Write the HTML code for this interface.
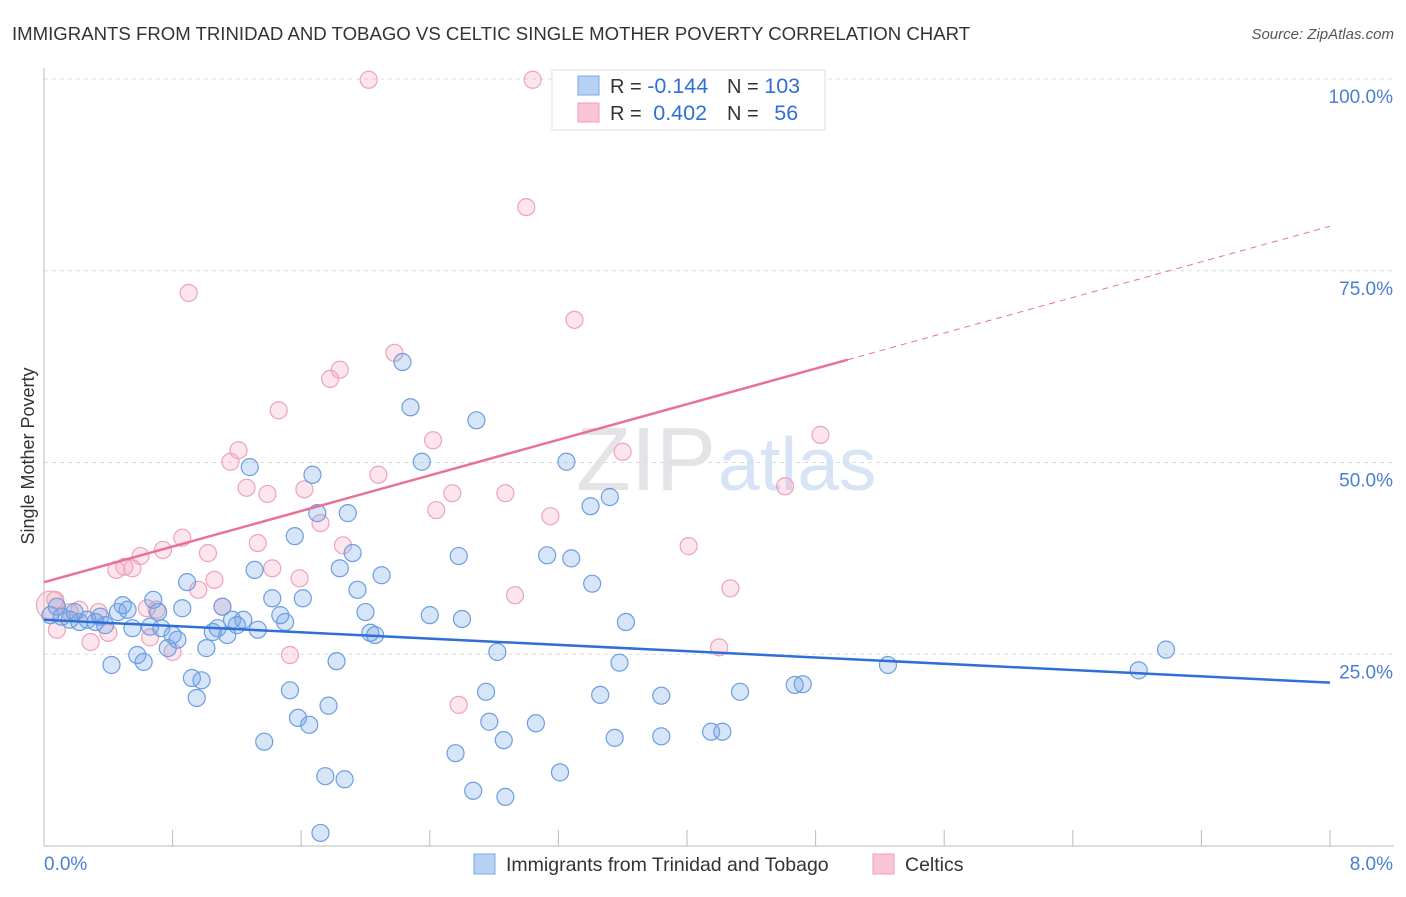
<!DOCTYPE html>
<html><head><meta charset="utf-8"><style>
body{margin:0;background:#fff;font-family:"Liberation Sans",sans-serif;}
svg text{font-family:"Liberation Sans",sans-serif;}
</style></head><body>
<svg id="chart" width="1406" height="892">
<text x="12" y="40" font-size="18.6" fill="#333">IMMIGRANTS FROM TRINIDAD AND TOBAGO VS CELTIC SINGLE MOTHER POVERTY CORRELATION CHART</text>
<text x="1394" y="39" font-size="15" fill="#555" font-style="italic" text-anchor="end">Source: ZipAtlas.com</text>
<text x="716" y="490" font-size="90" fill="#e3e3e8" text-anchor="end" font-family="Liberation Serif">ZIP</text>
<text x="718" y="490" font-size="75" fill="#d6e4f5">atlas</text>
<text transform="translate(34,456) rotate(-90)" font-size="18" fill="#333" text-anchor="middle">Single Mother Poverty</text>
<g id="grid"></g><g id="ticks"></g><g id="pts"></g><g id="lines"></g>
<g>
<rect x="552" y="70" width="273" height="60" fill="#fff" stroke="#ddd"/>
<rect x="578" y="76" width="21" height="19" fill="#b7d1f5" stroke="#7aa6e3"/>
<rect x="578" y="103" width="21" height="19" fill="#f9c4d3" stroke="#ee9fb8"/>
<text x="610" y="93" font-size="20" fill="#333">R = <tspan fill="#2f6fd6" font-size="21.5">-0.144</tspan></text>
<text x="727" y="93" font-size="20" fill="#333">N = <tspan fill="#2f6fd6" font-size="21.5">103</tspan></text>
<text x="610" y="120" font-size="20" fill="#333">R = <tspan fill="#2f6fd6" dx="6" font-size="21.5">0.402</tspan></text>
<text x="727" y="120" font-size="20" fill="#333">N = <tspan fill="#2f6fd6" dx="10" font-size="21.5">56</tspan></text>
</g>
<g>
<rect x="474" y="854" width="21" height="20" fill="#b7d1f5" stroke="#7aa6e3"/>
<text x="506" y="871" font-size="19.5" fill="#333">Immigrants from Trinidad and Tobago</text>
<rect x="873" y="854" width="21" height="20" fill="#f9c4d3" stroke="#ee9fb8"/>
<text x="905" y="871" font-size="19.5" fill="#333">Celtics</text>
</g>
</svg>
<script>
const blueX=[0.08,0.04,0.11,0.16,0.19,0.22,0.27,0.32,0.35,0.38,0.42,0.46,0.49,0.52,0.55,0.58,0.62,0.66,0.68,0.71,0.73,0.77,0.80,0.83,0.86,0.89,0.92,0.95,0.98,1.01,1.05,1.08,1.11,1.14,1.17,1.20,1.24,1.28,1.31,1.33,1.37,1.42,1.47,1.50,1.53,1.56,1.58,1.61,1.65,1.67,1.70,1.75,1.77,1.82,1.84,1.87,1.89,1.92,1.95,2.00,2.03,2.06,2.10,2.23,2.28,2.35,2.40,2.56,2.58,2.60,2.67,2.69,2.75,2.77,2.82,2.86,2.87,3.06,3.13,3.21,3.25,3.28,3.40,3.41,3.46,3.52,3.55,3.58,3.62,3.84,3.84,4.15,4.22,4.33,4.67,4.72,5.25,6.81,6.98,1.72];
const blueY=[31.2,30.1,29.9,29.5,30.5,29.2,29.5,29.2,29.9,28.8,23.6,30.5,31.4,30.8,28.4,24.9,24.0,28.6,32.1,30.5,28.4,25.8,27.5,26.9,31.0,34.4,21.9,19.3,21.6,25.8,27.9,28.4,31.2,27.5,29.5,28.8,29.5,49.4,36.0,28.2,13.6,32.3,30.1,29.2,20.3,40.4,16.7,32.3,15.8,48.4,43.4,9.1,18.3,24.1,36.2,8.7,43.4,38.2,33.4,30.5,27.8,27.5,35.3,63.1,57.2,50.1,30.1,12.1,37.8,29.6,7.2,55.5,20.1,16.2,25.3,13.8,6.4,16.0,37.9,9.6,50.1,37.5,44.3,34.2,19.7,45.5,14.1,23.9,29.2,14.3,19.6,14.9,14.9,20.1,21.0,21.1,23.6,22.9,25.6,1.7];
const pinkX=[0.04,0.08,0.16,0.29,0.34,0.40,0.45,0.50,0.55,0.60,0.64,0.66,0.70,0.74,0.80,0.86,0.90,0.96,1.02,1.06,1.11,1.16,1.21,1.26,1.33,1.39,1.42,1.46,1.53,1.59,1.62,1.72,1.78,1.84,1.86,2.02,2.08,2.18,2.42,2.44,2.54,2.58,2.87,2.93,3.00,3.04,3.15,3.30,3.60,4.01,4.20,4.27,4.61,4.83,0.07,0.22];
const pinkY=[31.4,28.2,30.5,26.6,30.5,27.8,36.0,36.4,36.2,37.8,31.0,27.2,30.8,38.6,25.3,40.2,72.1,33.4,38.2,34.7,31.2,50.1,51.6,46.7,39.5,45.9,36.2,56.8,24.9,34.9,46.5,42.1,60.9,62.1,39.2,99.9,48.4,64.3,52.9,43.8,46.0,18.4,46.0,32.7,83.3,99.9,43.0,68.6,51.4,39.1,25.9,33.6,46.9,53.6,32.1,30.8];
const yTicks=[25,50,75,100];
const yTickLabels=["25.0%","50.0%","75.0%","100.0%"];
const xEnds=[0,8];
const xEndLabels=["0.0%","8.0%"];
const blueTrend=[29.5,21.3];
const pinkTrend=[34.4,80.8];
const pinkSolidEnd=5.0;

const X=v=>44+v*160.75, Y=v=>846-v*7.67;
const NS="http://www.w3.org/2000/svg";
function mk(tag,attrs,parent){const e=document.createElementNS(NS,tag);for(const k in attrs)e.setAttribute(k,attrs[k]);parent.appendChild(e);return e;}
const grid=document.getElementById('grid'),ticks=document.getElementById('ticks');
yTicks.forEach((t,i)=>{
 const l=mk('line',{x1:44,x2:1394,y1:Y(t),y2:Y(t),stroke:'#ddd','stroke-dasharray':'4,4'},grid);
 
 
 const tx=mk('text',{x:1393,y:Y(t)+24,'font-size':19,fill:'#4a7fd0','text-anchor':'end'},ticks);
 tx.textContent=yTickLabels[i];
 
 
});
const yAxisLine=mk('line',{x1:44,x2:44,y1:68,y2:846,stroke:'#bbb'},grid);


const ax=mk('line',{x1:44,x2:1394,y1:846,y2:846,stroke:'#bbb'},grid);


for(let i=0;i<=10;i++){mk('line',{x1:X(i*0.8),x2:X(i*0.8),y1:830,y2:846,stroke:'#bbb'},grid);}
xEnds.forEach((v,i)=>{
 const tx=mk('text',{x:i?1393:44,y:870,'font-size':19,fill:'#4a7fd0','text-anchor':i?'end':'start'},ticks);
 tx.textContent=xEndLabels[i];
 
 
});
const pts=document.getElementById('pts');
pinkX.forEach((x,i)=>{
 const c=mk('circle',{cx:X(x),cy:Y(pinkY[i]),r:i===0?14:8.5,fill:'rgba(244,160,188,0.28)',stroke:'#eea3bb','stroke-width':1.2},pts);
 
 
});
blueX.forEach((x,i)=>{
 const c=mk('circle',{cx:X(x),cy:Y(blueY[i]),r:8.5,fill:'rgba(110,160,230,0.28)',stroke:'#6c9ee0','stroke-width':1.2},pts);
 
 
});
const lines=document.getElementById('lines');
const bl=mk('line',{x1:X(xEnds[0]),y1:Y(blueTrend[0]),x2:X(xEnds[1]),y2:Y(blueTrend[1]),stroke:'#2f6fd6','stroke-width':2.5},lines);


const pAt=x=>pinkTrend[0]+(pinkTrend[1]-pinkTrend[0])*(x-xEnds[0])/(xEnds[1]-xEnds[0]);
const pl=mk('line',{x1:X(xEnds[0]),y1:Y(pinkTrend[0]),x2:X(pinkSolidEnd),y2:Y(pAt(pinkSolidEnd)),stroke:'#e8719a','stroke-width':2.5},lines);


const pd=mk('line',{x1:X(pinkSolidEnd),y1:Y(pAt(pinkSolidEnd)),x2:X(xEnds[1]),y2:Y(pinkTrend[1]),stroke:'#e8719a','stroke-width':1,'stroke-dasharray':'6,5'},lines);


</script>
</body></html>
